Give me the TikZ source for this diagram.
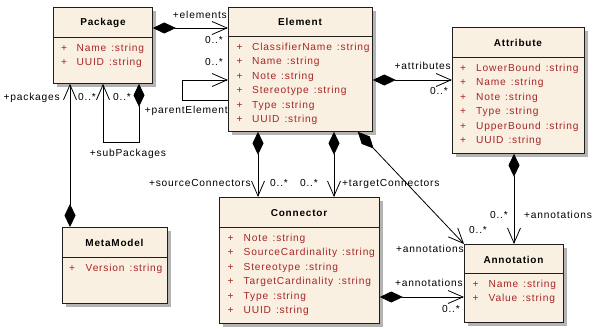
\documentclass[tikz,border=0pt]{standalone}
\usepackage{fontspec}
\usetikzlibrary{arrows.meta,shadows}
\newfontfamily\eafont[LetterSpace=8]{Liberation Sans}
\definecolor{clsfill}{RGB}{250,240,226}
\definecolor{attrred}{RGB}{165,38,38}
\definecolor{shadowgray}{RGB}{180,180,180}
\definecolor{edgecol}{RGB}{30,30,30}
\newcommand{\gp}{\hspace{5pt}}
\begin{document}
\begin{tikzpicture}[x=1pt,y=-1pt,
  cls/.style={draw=edgecol, line width=0.8pt, fill=clsfill, anchor=north west, inner sep=0pt,
    drop shadow={shadow xshift=4pt,shadow yshift=-4pt,fill=shadowgray,opacity=1}},
  sep/.style={draw=edgecol, line width=0.8pt},
  title/.style={anchor=base, inner sep=0pt, font=\eafont\bfseries\fontsize{10}{12}\selectfont},
  rows/.style={anchor=base west, inner sep=0pt, text=attrred, font=\eafont\fontsize{10.2}{14.4}\selectfont},
  lbl/.style={inner sep=0pt, text height=7pt, text depth=0pt, font=\eafont\fontsize{10.2}{12}\selectfont},
  comp/.style={draw=black, line width=0.8pt, {Diamond[length=23pt,width=11pt]}-{Straight Barb[length=15pt,width=13pt]}},
  assoc/.style={draw=black, line width=0.8pt, -{Straight Barb[length=15pt,width=13pt]}},
]
\path[use as bounding box, fill=white] (0,0) rectangle (594,329);

% Package
\node[cls, minimum width=99pt, minimum height=76pt] (pkg) at (53,7) {};
\draw[sep] (pkg.west |- 0,37) -- (pkg.east |- 0,37);
\node[title] (pkgt) at (103,26) {Package};
\node[rows] (pkgr) at (61,51.5) {\begin{tabular}[t]{@{}p{15.5pt}@{}l@{}}
+&Name\gp:string\\ +&UUID\gp:string\end{tabular}};

% Element
\node[cls, minimum width=144pt, minimum height=124pt] (el) at (228,7) {};
\draw[sep] (el.west |- 0,36) -- (el.east |- 0,36);
\node[title] (elt) at (300,25.5) {Element};
\node[rows] (elr) at (236.5,50.5) {\begin{tabular}[t]{@{}p{15.5pt}@{}l@{}}
+&ClassifierName\gp:string\\ +&Name\gp:string\\ +&Note\gp:string\\
+&Stereotype\gp:string\\ +&Type\gp:string\\ +&UUID\gp:string\end{tabular}};

% Attribute
\node[cls, minimum width=132pt, minimum height=126pt] (attr) at (452,27) {};
\draw[sep] (attr.west |- 0,57) -- (attr.east |- 0,57);
\node[title] (attrt) at (518,46.5) {Attribute};
\node[rows] (attrr) at (460,71.5) {\begin{tabular}[t]{@{}p{16pt}@{}l@{}}
+&LowerBound\gp:string\\ +&Name\gp:string\\ +&Note\gp:string\\
+&Type\gp:string\\ +&UpperBound\gp:string\\ +&UUID\gp:string\end{tabular}};

% MetaModel
\node[cls, minimum width=105pt, minimum height=76pt] (mm) at (62,227) {};
\draw[sep] (mm.west |- 0,257) -- (mm.east |- 0,257);
\node[title] (mmt) at (114.5,246.5) {MetaModel};
\node[rows] (mmr) at (69,271.5) {\begin{tabular}[t]{@{}p{16.5pt}@{}l@{}}
+&Version\gp:string\end{tabular}};

% Connector
\node[cls, minimum width=160pt, minimum height=126pt] (con) at (219,197) {};
\draw[sep] (con.west |- 0,227) -- (con.east |- 0,227);
\node[title] (cont) at (299,216.5) {Connector};
\node[rows] (conr) at (227.5,241.5) {\begin{tabular}[t]{@{}p{16pt}@{}l@{}}
+&Note\gp:string\\ +&SourceCardinality\gp:string\\ +&Stereotype\gp:string\\
+&TargetCardinality\gp:string\\ +&Type\gp:string\\ +&UUID\gp:string\end{tabular}};

% Annotation
\node[cls, minimum width=99pt, minimum height=78pt] (ann) at (464,244) {};
\draw[sep] (ann.west |- 0,273) -- (ann.east |- 0,273);
\node[title] (annt) at (513.5,263) {Annotation};
\node[rows] (annr) at (472.5,287.5) {\begin{tabular}[t]{@{}p{16pt}@{}l@{}}
+&Name\gp:string\\ +&Value\gp:string\end{tabular}};

% connectors
\draw[comp] (pkg.east |- 0,28) -- (el.west |- 0,28);
\draw[assoc] (el.west |- 0,100) -- ++(-46,0) |- (el.west |- 0,80);
\draw[comp] (pkg.south -| 139,0) -- ++(0,59) -| (pkg.south -| 103,0);
\draw[comp] (mm.north -| 70,0) -- (pkg.south -| 70,0);
\draw[comp] (el.east |- 0,80) -- (attr.west |- 0,80);
\draw[comp] (el.south -| 258,0) -- (con.north -| 258,0);
\draw[comp] (el.south -| 334,0) -- (con.north -| 334,0);
\draw[comp] ([xshift=-15pt]el.south east) -- (ann.north west);
\draw[comp] (attr.south -| 514,0) -- (ann.north -| 514,0);
\draw[comp] (con.east |- 0,297) -- (ann.west |- 0,297);

% labels
\node[lbl, anchor=east] (l1) at (227,15) {+elements};
\node[lbl, anchor=east] (l2) at (223,40) {0..*};
\node[lbl, anchor=east] (l3) at (223,62) {0..*};
\node[lbl, anchor=east] (l4) at (228,110) {+parentElement};
\node[lbl, anchor=east] (l5) at (60,97) {+packages};
\node[lbl, anchor=west] (l6) at (78,97) {0..*};
\node[lbl, anchor=west] (l7) at (113,97) {0..*};
\node[lbl] (l8) at (128,153) {+subPackages};
\node[lbl, anchor=east] (l9) at (451,66) {+attributes};
\node[lbl, anchor=east] (l10) at (448,91) {0..*};
\node[lbl, anchor=east] (l11) at (251,183) {+sourceConnectors};
\node[lbl, anchor=west] (l12) at (270,183) {0..*};
\node[lbl, anchor=east] (l13) at (318,183) {0..*};
\node[lbl, anchor=west] (l14) at (342,183) {+targetConnectors};
\node[lbl, anchor=west] (l15) at (469,230) {0..*};
\node[lbl, anchor=east] (l16) at (464,249) {+annotations};
\node[lbl, anchor=east] (l17) at (508,215) {0..*};
\node[lbl, anchor=west] (l18) at (524,215) {+annotations};
\node[lbl, anchor=east] (l19) at (463,283) {+annotations};
\node[lbl, anchor=east] (l20) at (460,309) {0..*};
\end{tikzpicture}
\end{document}
